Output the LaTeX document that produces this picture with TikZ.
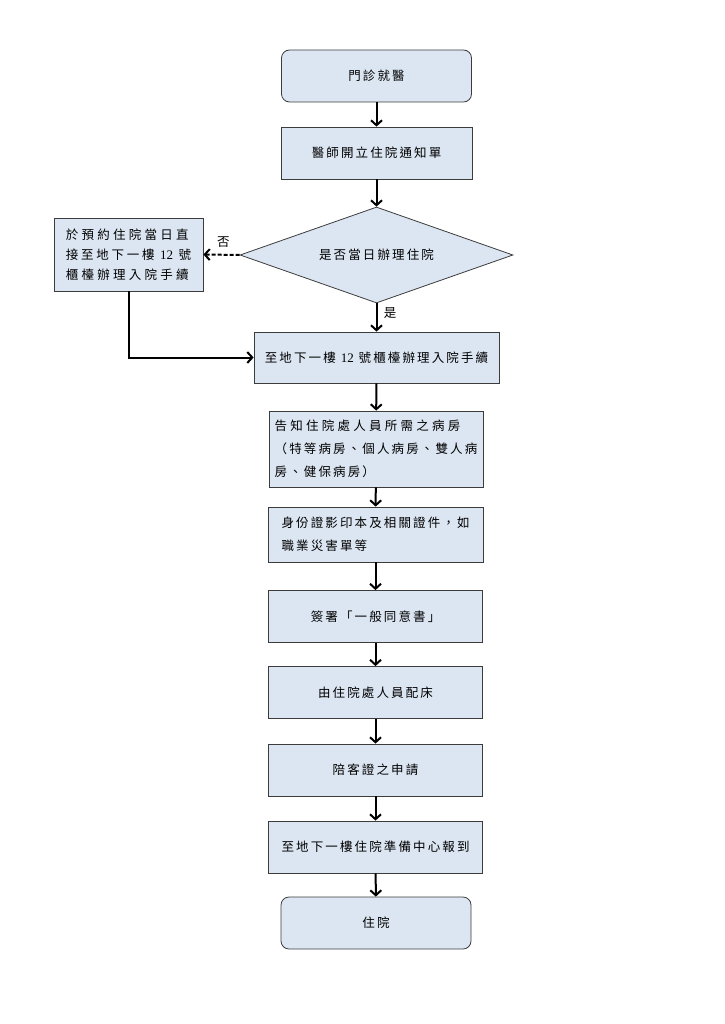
\documentclass[tikz,border=0pt]{standalone}
\usepackage{fontspec}
\usepackage{xcolor}
\usepackage{tikz}
\usetikzlibrary{shapes.geometric,arrows.meta}
\newfontfamily\cjk[LetterSpace=17]{Noto Sans CJK TC}
\newfontfamily\numfont{Liberation Serif}
\newcommand{\twelve}{{\numfont\fontsize{13}{20}\selectfont 12}}
\newcommand{\wideline}[2]{{\addfontfeature{LetterSpace=#1}#2}}
\definecolor{boxfill}{HTML}{DCE6F2}
\definecolor{boxline}{HTML}{3C3C3C}

\begin{document}
\begin{tikzpicture}[x=1pt,y=-1pt,
    font=\cjk\fontsize{12.5}{23}\selectfont,
    stepbox/.style={draw=boxline,line width=0.8pt,fill=boxfill,inner sep=0pt},
    endbox/.style={stepbox,rounded corners=8pt},
    flow/.style={line width=2pt,-{Straight Barb[length=5pt,width=11pt]}}]
    \useasboundingbox (0,0) rectangle (724,1024);
    % start and end of the flow
    \node[endbox,minimum width=190,minimum height=52] (start) at (376.5,76) {門診就醫};
    \node[endbox,minimum width=190,minimum height=52] (admit) at (376,923) {住院};
    % the decision and the side branch
    \node[stepbox,minimum width=191,minimum height=52] (notice) at (376.5,153) {醫師開立住院通知單};
    \node[stepbox,diamond,aspect=2.85,minimum width=273,minimum height=96] (decide) at (376.5,255) {是否當日辦理住院};
    \node[stepbox,minimum width=149,minimum height=73,align=left,font=\cjk\fontsize{12.5}{20}\selectfont] (early) at (128.5,254.5)
        {\wideline{26}{於預約住院當日直}\\\wideline{22}{接至地下一樓 \twelve{} 號}\\\wideline{26}{櫃檯辦理入院手續}};
    % main column
    \node[stepbox,minimum width=245,minimum height=51] (counter) at (376.5,357.5) {至地下一樓 \twelve{} 號櫃檯辦理入院手續};
    \node[stepbox,minimum width=214,minimum height=76,align=left] (room) at (376,449)
        {\wideline{26}{告知住院處人員所需之病房}\\\wideline{17}{（特等病房、個人病房、雙人病}\\房、健保病房）};
    \node[stepbox,minimum width=215,minimum height=55,align=left] (idcard) at (375.5,534.5)
        {身份證影印本及相關證件，如\\職業災害單等};
    \foreach \name/\y/\txt in {consent/616.5/簽署「一般同意書」, bed/692.5/由住院處人員配床,
                               pass/770/陪客證之申請, report/847/至地下一樓住院準備中心報到} {
        \node[stepbox,minimum width=214,minimum height=52] (\name) at (375.5,\y) {\txt};
    }
    % connectors
    \draw[flow] (start) -- (notice);
    \draw[flow] (notice) -- (decide);
    \draw[flow] (decide) -- node[right,xshift=3pt,pos=0.35] {是} (counter);
    \draw[flow,dash pattern=on 4pt off 2pt] (decide.west) -- node[above,pos=0.45,yshift=3pt] {否} (early.east);
    \draw[flow] (early.south) |- (counter.west);
    \foreach \a/\b in {counter/room, room/idcard, idcard/consent, consent/bed, bed/pass, pass/report, report/admit} {
        \draw[flow] (\a) -- (\b);
    }
\end{tikzpicture}
\end{document}
